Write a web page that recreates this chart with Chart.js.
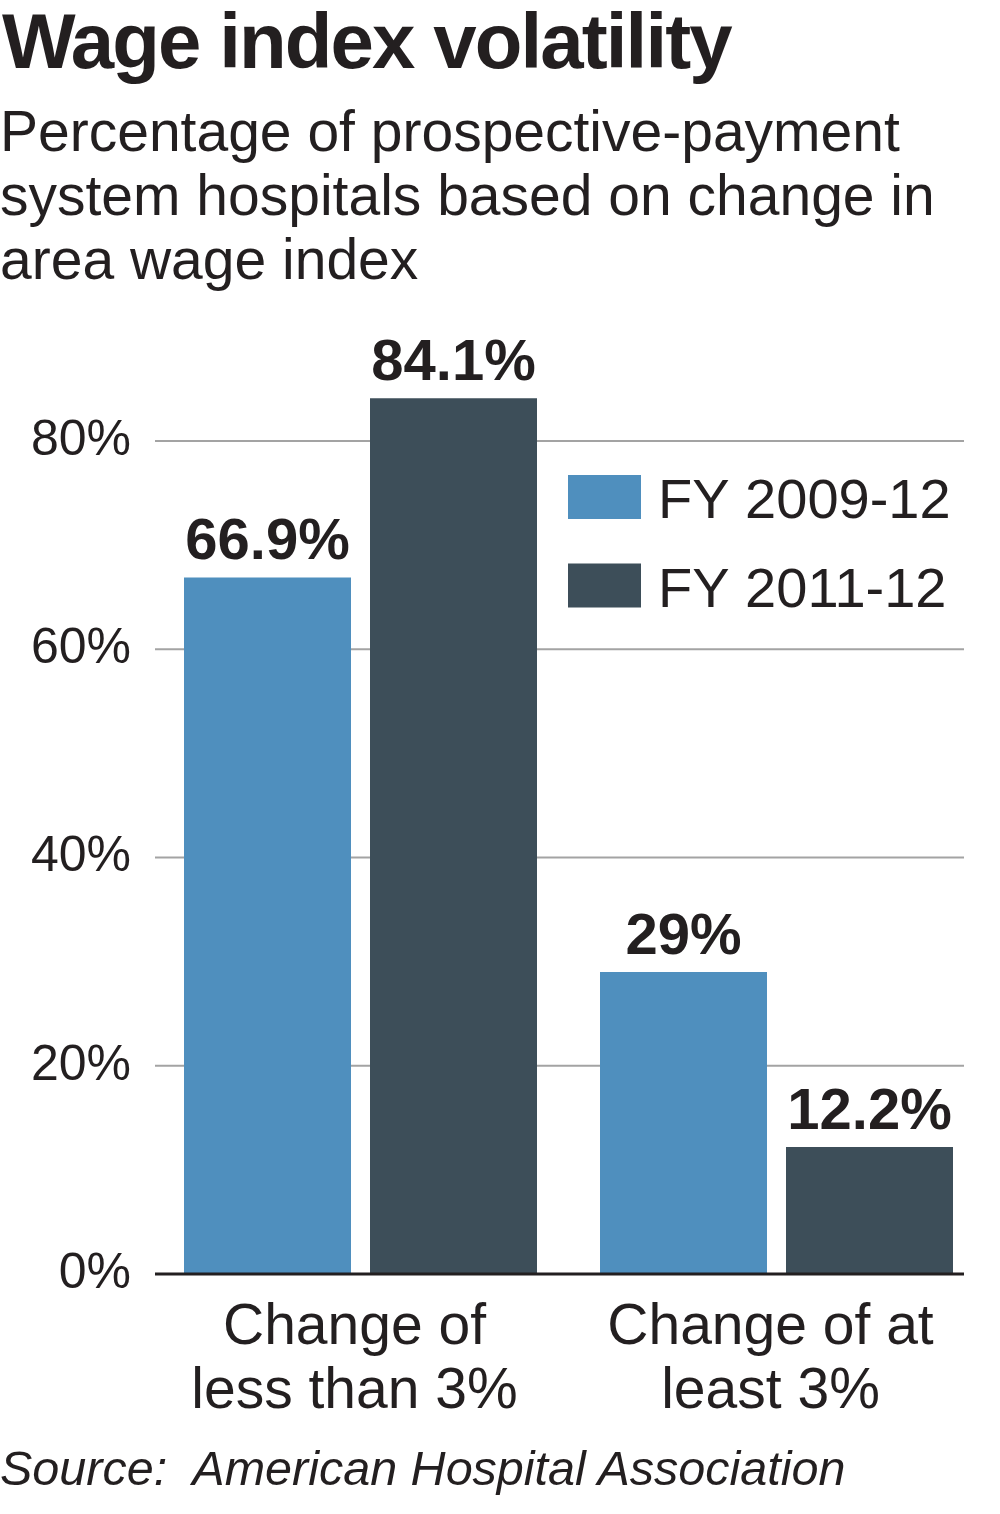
<!DOCTYPE html>
<html>
<head>
<meta charset="utf-8">
<script src="https://cdn.jsdelivr.net/npm/chart.js@4.4.1/dist/chart.umd.min.js"></script>
<style>
html,body{margin:0;padding:0;background:#fff;}
body{width:1000px;height:1514px;position:relative;overflow:hidden;font-family:"Liberation Sans",Arial,Helvetica,sans-serif;color:#231f20;}
#title{position:absolute;left:2px;top:2px;font-size:78px;font-weight:bold;line-height:1;letter-spacing:-1.9px;white-space:nowrap;}
#subtitle{position:absolute;left:0;top:99px;font-size:57px;line-height:64px;white-space:nowrap;}
#source{position:absolute;left:0;top:1444px;font-size:48.5px;font-style:italic;line-height:1;white-space:pre;}
#wrap{position:absolute;left:0;top:0;width:1000px;height:1514px;}
</style>
</head>
<body>
<div id="title">Wage index volatility</div>
<div id="subtitle">Percentage of prospective-payment<br>system hospitals based on change in<br>area wage index</div>
<div id="wrap"><canvas id="c"></canvas></div>
<div id="source">Source:  American Hospital Association</div>
<script>
const categories = [["Change of", "less than 3%"], ["Change of at", "least 3%"]];
const seriesLabels = ["FY 2009-12", "FY 2011-12"];
const fy2009_12 = [66.9, 29];
const fy2011_12 = [84.1, 12.2];
const yTicks = [0, 20, 40, 60, 80];
const seriesColors = ["#4f8fbe", "#3d4e59"];

const FONT = '"Liberation Sans", Arial, Helvetica, sans-serif';
const INK = '#231f20';

const gridPlugin = {
  id: 'gridPlugin',
  beforeDatasetsDraw(chart) {
    const ctx = chart.ctx, y = chart.scales.y;
    ctx.save();
    ctx.strokeStyle = '#a3a3a3';
    ctx.lineWidth = 2;
    yTicks.forEach(v => {
      if (v === 0) return;
      const py = y.getPixelForValue(v);
      ctx.beginPath();
      ctx.moveTo(155, py);
      ctx.lineTo(964, py);
      ctx.stroke();
    });
    ctx.restore();
  },
  afterDatasetsDraw(chart) {
    const ctx = chart.ctx, y = chart.scales.y;
    ctx.save();
    const p0 = y.getPixelForValue(0);
    ctx.strokeStyle = INK;
    ctx.lineWidth = 3;
    ctx.beginPath();
    ctx.moveTo(155, p0);
    ctx.lineTo(964, p0);
    ctx.stroke();
    ctx.fillStyle = INK;
    ctx.font = 'bold 58px ' + FONT;
    ctx.textAlign = 'center';
    ctx.textBaseline = 'alphabetic';
    chart.data.datasets.forEach((ds, di) => {
      const meta = chart.getDatasetMeta(di);
      meta.data.forEach((el, i) => {
        ctx.fillText(ds.data[i] + '%', el.x, el.y - 18);
      });
    });
    ctx.font = '56px ' + FONT;
    ctx.textAlign = 'left';
    chart.data.datasets.forEach((ds, di) => {
      const top = 475 + di * 88.5;
      ctx.fillStyle = ds.backgroundColor;
      ctx.fillRect(568, top, 73, 44);
      ctx.fillStyle = INK;
      ctx.fillText(ds.label, 658, 518 + di * 89);
    });
    ctx.restore();
  }
};

new Chart(document.getElementById('c'), {
  type: 'bar',
  data: {
    labels: categories,
    datasets: [
      { label: seriesLabels[0], data: fy2009_12, backgroundColor: seriesColors[0] },
      { label: seriesLabels[1], data: fy2011_12, backgroundColor: seriesColors[1] }
    ]
  },
  options: {
    responsive: true,
    maintainAspectRatio: false,
    animation: false,
    layout: { padding: { top: 336.875, right: 15.5, bottom: 40, left: 0 } },
    plugins: { legend: { display: false }, title: { display: false }, tooltip: { enabled: false } },
    datasets: { bar: { categoryPercentage: 372 / 416, barPercentage: 167 / 186 } },
    scales: {
      x: {
        grid: { display: false, drawTicks: false },
        border: { display: false },
        ticks: {
          color: INK, padding: 22, labelOffset: -6, autoSkip: false, maxRotation: 0, minRotation: 0,
          font: { family: FONT, size: 57, lineHeight: 64 / 57 }
        },
        afterFit(s) { s.height = 200; }
      },
      y: {
        min: 0, max: 90,
        grid: { display: false, drawTicks: false },
        border: { display: false },
        afterBuildTicks(s) { s.ticks = yTicks.map(v => ({ value: v })); },
        ticks: {
          color: INK, padding: 21.5,
          font: { family: FONT, size: 50 },
          callback: v => v + '%'
        },
        afterFit(s) { s.width = 152.5; }
      }
    }
  },
  plugins: [gridPlugin]
});
</script>
</body>
</html>
